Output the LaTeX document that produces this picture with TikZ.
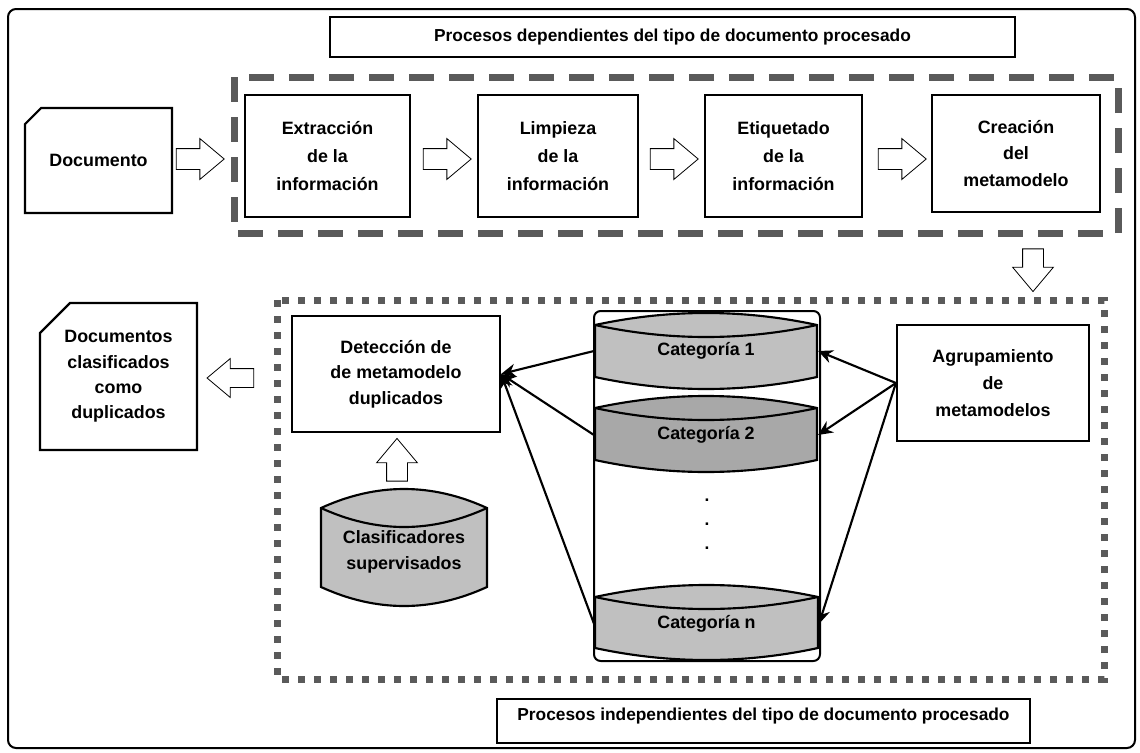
\documentclass[tikz,border=0pt]{standalone}
\usepackage{fontspec}
\setmainfont{Liberation Sans}
\usepackage{tikz}
\usetikzlibrary{arrows.meta, shapes.arrows, shapes.misc, positioning}

\definecolor{dashgray}{HTML}{5A5A5A}
\definecolor{drumlight}{HTML}{C0C0C0}
\definecolor{drumdark}{HTML}{A8A8A8}

\begin{document}
\begin{tikzpicture}[
		x=0.75pt, y=-0.75pt,
		line width=1.6pt,
		every node/.style={align=center, inner sep=0pt, font=\bfseries\fontsize{13.4}{21}\selectfont},
		process/.style={draw, rectangle},
		lower/.style={font=\bfseries\fontsize{13.4}{19}\selectfont},
		document/.style={draw, chamfered rectangle, chamfered rectangle corners=north west},
		hollow/.style={draw, fill=white, line width=0.6pt, single arrow, inner xsep=0pt, inner ysep=7.5pt,
			single arrow head extend=7.5pt, single arrow tip angle=80, minimum height=36pt},
		upright/.style={inner xsep=7.5pt, inner ysep=0pt, minimum height=32pt},
		link/.style={-{Stealth[length=11pt, width=10pt]}},
		title box/.style={draw, line width=0.8pt, rectangle, font=\bfseries\fontsize{13}{16}\selectfont}
		]
	\useasboundingbox (0,0) rectangle (1140,753);
	
	% Frame
	\draw[line width=1.5pt, rounded corners=6pt] (8,9) rectangle (1135,748);
	
	% Document dependent part
	\node[title box, minimum width=513.75pt, minimum height=30pt] (dep) at (672.5,37)
		{Procesos dependientes del tipo de documento procesado};
	\draw[dashgray, line width=5.25pt, dash pattern=on 19pt off 11pt] (234,77) rectangle (1118,233);
	
	\node[document, minimum width=110.25pt, minimum height=78.75pt,
		chamfered rectangle xsep=11.25pt, chamfered rectangle ysep=7.5pt] (doc) at (98.5,160.5) {Documento};
	\node[process, minimum width=123.75pt, minimum height=91.5pt] (extr) at (327.5,156) {Extracción\\de la\\información};
	\node[process, minimum width=120pt, minimum height=91.5pt] (limp) at (558,156) {Limpieza\\de la\\información};
	\node[process, minimum width=117.75pt, minimum height=91.5pt] (etiq) at (783.5,156) {Etiquetado\\de la\\información};
	\node[process, minimum width=126pt, minimum height=87.75pt,
		font=\bfseries\fontsize{13.4}{20}\selectfont] (crea) at (1016,153.5) {Creación\\del\\metamodelo};
	
	% Hollow arrows of the chain
	\foreach \x/\name in {194/a1, 441/a2, 668/a3, 896/a4}{
		\node[hollow] (\name) at (\x,159) {};
	}
	\node[hollow, upright, shape border rotate=270] (a5) at (1033,264) {};
	
	% Document independent part
	\draw[dashgray, line width=5.25pt, dash pattern=on 5.25pt off 6.75pt] (277,300) rectangle (1104,679);
	\node[title box, minimum width=399.75pt, text height=15.75pt, text depth=17.25pt, anchor=base] (indep)
		at (763.5,720) {Procesos independientes del tipo de documento procesado};
	
	\node[document, lower, minimum width=117.75pt, minimum height=110.25pt,
		chamfered rectangle xsep=12pt, chamfered rectangle ysep=10.5pt] (dupl) at (118.5,376.5)
		{Documentos\\clasificados\\como\\duplicados};
	\node[process, lower, minimum width=156pt, minimum height=87pt] (detec) at (396,374)
		{Detección de\\de metamodelo\\duplicados};
	\node[process, font=\bfseries\fontsize{13.4}{20.25}\selectfont, minimum width=144pt, minimum height=87pt] (agrup)
		at (993,383) {Agrupamiento\\de\\metamodelos};
	
	\node[hollow, shape border rotate=180, minimum height=35pt, inner ysep=6.75pt] (a6) at (236,378) {};
	\node[hollow, upright, shape border rotate=90] (a7) at (397,466) {};
	
	% Categories
	\draw[line width=1.5pt, rounded corners=5pt] (594,311) rectangle (820,661);
	\foreach \l/\r/\t/\b/\s/\c in {595/817/325/377/12/drumlight, 595/817/408/460/12/drumdark,
		595/818/597/648/12/drumlight, 321/487/508/587/19/drumlight}{
		\filldraw[fill=\c] (\l,\t) .. controls ({\l+(\r-\l)/3},{\t-4*\s/3}) and ({\l+2*(\r-\l)/3},{\t-4*\s/3}) .. (\r,\t)
			-- (\r,\b) .. controls ({\l+2*(\r-\l)/3},{\b+4*\s/3}) and ({\l+(\r-\l)/3},{\b+4*\s/3}) .. (\l,\b) -- cycle;
		\draw (\l,\t) .. controls ({\l+(\r-\l)/3},{\t+4*\s/3}) and ({\l+2*(\r-\l)/3},{\t+4*\s/3}) .. (\r,\t);
	}
	\node[minimum width=166.5pt, minimum height=39pt] (cat1) at (706,351) {Categoría 1};
	\node[minimum width=166.5pt, minimum height=39pt] (cat2) at (706,435) {Categoría 2};
	\node[minimum width=167pt, minimum height=39pt] (catn) at (706.5,624) {Categoría n};
	\node[font=\bfseries\fontsize{13}{18}\selectfont] (dots) at (707,524) {.\\.\\.};
	\node[lower, minimum width=124.5pt, minimum height=59.25pt] (clas) at (404,552) {Clasificadores\\supervisados};
	
	% Links
	\foreach \cat in {cat1, cat2, catn}{
		\draw[link] (agrup.west) -- (\cat.east);
		\draw[link] (\cat.west) -- (detec.east);
	}
	
\end{tikzpicture}
\end{document}
